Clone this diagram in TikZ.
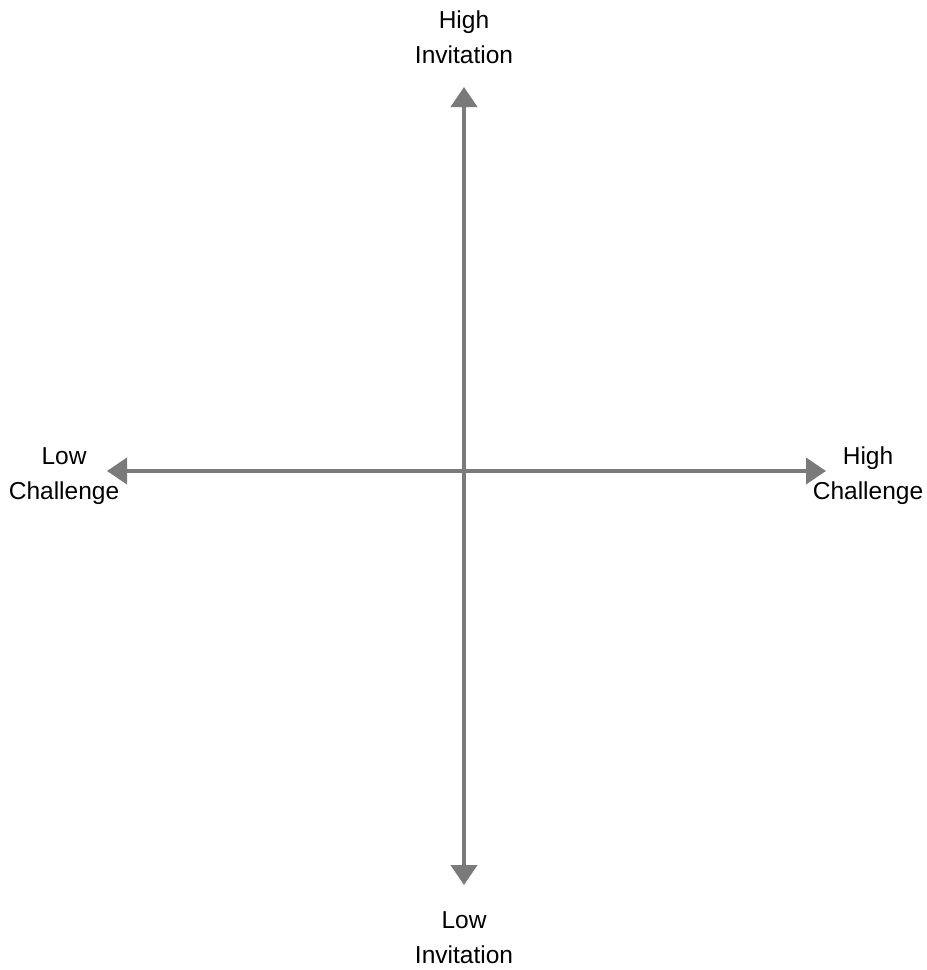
\documentclass[tikz,border=0pt]{standalone}
\usepackage{fontspec}
\setmainfont{Liberation Sans}
\usetikzlibrary{arrows.meta}
\definecolor{axisgray}{HTML}{7A7A7A}
\tikzset{
  axis/.style={draw=axisgray, line width=4pt, {Triangle[length=20pt,width=26pt]}-{Triangle[length=20pt,width=26pt]}},
  lbl/.style={align=center, inner sep=0pt, font=\fontsize{24.5}{35}\selectfont, text=black}
}
\begin{document}
\begin{tikzpicture}[x=1pt,y=-1pt]
\useasboundingbox (0,0) rectangle (927,970);
\fill[white] (0,0) rectangle (927,970);
\coordinate (top) at (464,87);
\coordinate (bottom) at (464,885);
\coordinate (left) at (107,471);
\coordinate (right) at (826,471);
\draw[axis] (bottom) -- (top);
\draw[axis] (left) -- (right);
\node[lbl] (hi) at (464,37) {High\\Invitation};
\node[lbl] (li) at (464,938) {Low\\Invitation};
\node[lbl] (lc) at (64,476) {Low\\Challenge};
\node[lbl] (hc) at (868,476) {High\\Challenge};
\end{tikzpicture}
\end{document}
